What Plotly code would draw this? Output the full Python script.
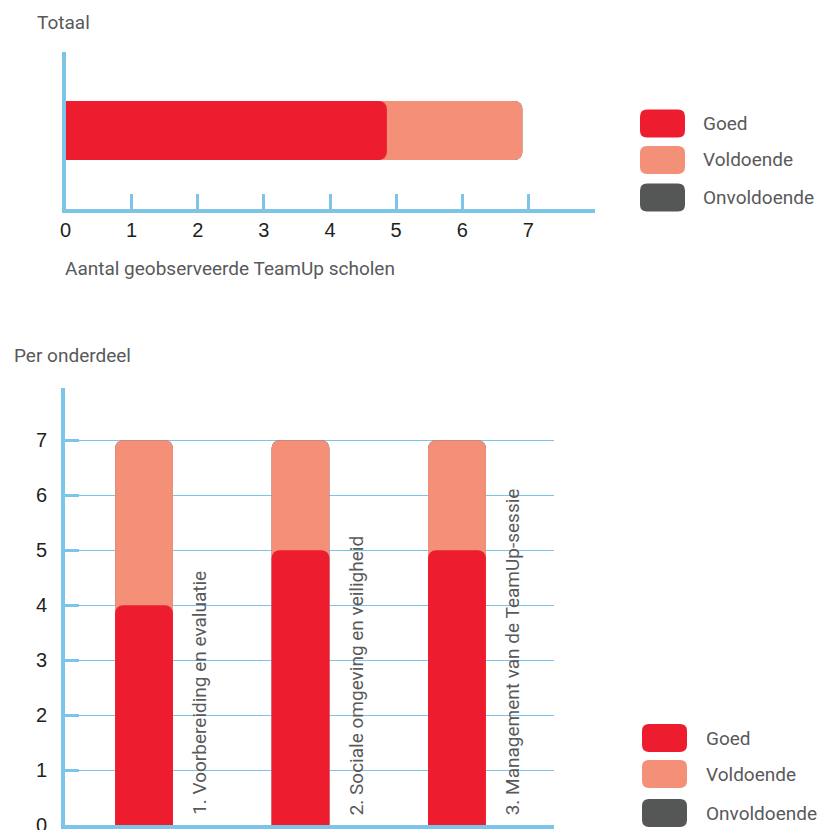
import plotly.graph_objects as go

W, H = 821, 830

# ---------------- data ----------------
series = ["Goed", "Voldoende", "Onvoldoende"]
series_colors = ["#ED1C2E", "#F48F78", "#555756"]

# Totaal (horizontal bar)
total_goed = [4.86]
total_voldoende = [2.05]
total_onvoldoende = [0]

# Per onderdeel (vertical bars)
categories = [
    "1. Voorbereiding en evaluatie",
    "2. Sociale omgeving en veiligheid",
    "3. Management van de TeamUp-sessie",
]
part_goed = [4, 5, 5]
part_voldoende = [3, 2, 2]
part_onvoldoende = [0, 0, 0]

x_tick_values = [0, 1, 2, 3, 4, 5, 6, 7]
y_tick_values = [0, 1, 2, 3, 4, 5, 6, 7]

# ---------------- styling ----------------
AXIS = "#7DC4E9"
GRAY = "#58595B"
TICKC = "#231F20"
COND = "Liberation Sans Narrow, Roboto, sans-serif"
CSIZE = 19
REG = "Liberation Sans, Arial, sans-serif"

TOP_RANGE_X = [0, 8]
TOP_RANGE_Y = [-0.5, 0.5]
BOT_RANGE_X = [-0.505, 2.62]
BOT_RANGE_Y = [0, 7.95]


def px(x):
    return x / W


def py(y):
    return 1 - y / H


def cum(*arrs):
    return [sum(v) for v in zip(*arrs)]


fig = go.Figure()

# each layer on its own overlaid axes so every segment keeps its own rounded end
top_layers = [
    (2, cum(total_goed, total_voldoende, total_onvoldoende), "x", "y"),
    (1, cum(total_goed, total_voldoende), "x3", "y3"),
    (0, total_goed, "x4", "y4"),
]
for idx, vals, xa, ya in top_layers:
    fig.add_trace(go.Bar(
        x=vals, y=[0], orientation="h", width=0.376,
        marker=dict(color=series_colors[idx], line=dict(width=0), cornerradius=8),
        name=series[idx], showlegend=False, xaxis=xa, yaxis=ya,
        hoverinfo="skip",
    ))

cat_pos = list(range(len(categories)))
bot_layers = [
    (2, cum(part_goed, part_voldoende, part_onvoldoende), "x2", "y2"),
    (1, cum(part_goed, part_voldoende), "x5", "y5"),
    (0, part_goed, "x6", "y6"),
]
for idx, vals, xa, ya in bot_layers:
    fig.add_trace(go.Bar(
        x=cat_pos, y=vals, width=0.37,
        marker=dict(color=series_colors[idx], line=dict(width=0), cornerradius=8),
        name=series[idx], showlegend=False, xaxis=xa, yaxis=ya,
        hoverinfo="skip",
    ))

shapes = []
annotations = []


def rrect(x0, y0, x1, y1, r):
    return (
        f"M {px(x0 + r)},{py(y0)} L {px(x1 - r)},{py(y0)} "
        f"Q {px(x1)},{py(y0)} {px(x1)},{py(y0 + r)} "
        f"L {px(x1)},{py(y1 - r)} "
        f"Q {px(x1)},{py(y1)} {px(x1 - r)},{py(y1)} "
        f"L {px(x0 + r)},{py(y1)} "
        f"Q {px(x0)},{py(y1)} {px(x0)},{py(y1 - r)} "
        f"L {px(x0)},{py(y0 + r)} "
        f"Q {px(x0)},{py(y0)} {px(x0 + r)},{py(y0)} Z"
    )


def legend(xbox, xtext, ycenters):
    for name, col, yc in zip(series, series_colors, ycenters):
        shapes.append(dict(type="path", xref="paper", yref="paper",
                           path=rrect(xbox, yc - 14, xbox + 45, yc + 14, 7),
                           fillcolor=col, line=dict(width=0)))
        annotations.append(dict(xref="paper", yref="paper", x=px(xtext), y=py(yc),
                                xanchor="left", yanchor="middle", showarrow=False,
                                text=name, font=dict(family=COND, size=CSIZE, color=GRAY)))


legend(640, 701, [123.5, 160, 197.5])
legend(642, 704, [738, 774, 813])

annotations.append(dict(xref="paper", yref="paper", x=px(35), y=py(22), xanchor="left",
                        yanchor="middle", showarrow=False, text="Totaal",
                        font=dict(family=COND, size=CSIZE, color=GRAY)))
annotations.append(dict(xref="paper", yref="paper", x=px(63), y=py(268), xanchor="left",
                        yanchor="middle", showarrow=False, text="Aantal geobserveerde TeamUp scholen",
                        font=dict(family=COND, size=CSIZE, color=GRAY)))
annotations.append(dict(xref="paper", yref="paper", x=px(12), y=py(355), xanchor="left",
                        yanchor="middle", showarrow=False, text="Per onderdeel",
                        font=dict(family=COND, size=CSIZE, color=GRAY)))

for i, c in enumerate(categories):
    annotations.append(dict(xref="x2", yref="y2", x=cat_pos[i] + 0.355, y=0.14,
                            xanchor="center", yanchor="bottom", textangle=-90,
                            showarrow=False, text=c,
                            font=dict(family=COND, size=CSIZE, color=GRAY)))

hidden = dict(visible=False, automargin=False, showgrid=False, zeroline=False)

fig.update_layout(
    template="none",
    width=W, height=H,
    margin=dict(l=0, r=0, t=0, b=0, pad=0),
    paper_bgcolor="white", plot_bgcolor="white",
    barmode="overlay", barcornerradius=8,
    showlegend=False,
    shapes=shapes, annotations=annotations,
    xaxis=dict(domain=[px(65.5), px(594.5)], range=TOP_RANGE_X, anchor="y", automargin=False,
               tickvals=x_tick_values, ticks="inside", ticklen=15, tickwidth=3,
               tickcolor=AXIS, showline=True, linewidth=4, linecolor=AXIS,
               showgrid=False, zeroline=False,
               tickfont=dict(family=REG, size=20, color=TICKC)),
    yaxis=dict(domain=[py(209), py(52)], range=TOP_RANGE_Y, anchor="x", automargin=False,
               showline=True, linewidth=4, linecolor=AXIS, showticklabels=False,
               ticks="", showgrid=False, zeroline=False),
    xaxis3=dict(overlaying="x", range=TOP_RANGE_X, anchor="y3", **hidden),
    yaxis3=dict(overlaying="y", range=TOP_RANGE_Y, anchor="x3", **hidden),
    xaxis4=dict(overlaying="x", range=TOP_RANGE_X, anchor="y4", **hidden),
    yaxis4=dict(overlaying="y", range=TOP_RANGE_Y, anchor="x4", **hidden),
    xaxis2=dict(domain=[px(65), px(554)], range=BOT_RANGE_X, anchor="y2", automargin=False,
                showline=True, linewidth=4, linecolor=AXIS, showticklabels=False,
                ticks="", showgrid=False, zeroline=False),
    yaxis2=dict(domain=[py(825), py(388)], range=BOT_RANGE_Y, anchor="x2", automargin=False,
                tickvals=y_tick_values, ticks="inside", ticklen=14, tickwidth=3,
                tickcolor=AXIS, showline=True, linewidth=4, linecolor=AXIS,
                showgrid=True, gridcolor=AXIS, gridwidth=1.2, zeroline=False,
                ticklabelstandoff=10, ticklabeloverflow="allow",
                tickfont=dict(family=REG, size=20, color=TICKC)),
    xaxis5=dict(overlaying="x2", range=BOT_RANGE_X, anchor="y5", **hidden),
    yaxis5=dict(overlaying="y2", range=BOT_RANGE_Y, anchor="x5", **hidden),
    xaxis6=dict(overlaying="x2", range=BOT_RANGE_X, anchor="y6", **hidden),
    yaxis6=dict(overlaying="y2", range=BOT_RANGE_Y, anchor="x6", **hidden),
)

fig.write_html("out.html")
